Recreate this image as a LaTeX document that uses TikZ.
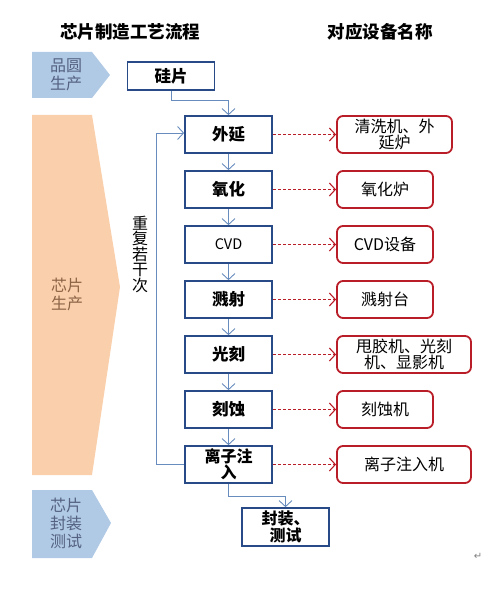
\documentclass[tikz,border=0pt]{standalone}
\usepackage{fontspec}
\setmainfont{Noto Sans CJK SC}
\newfontfamily\symfont{DejaVu Sans}
\usetikzlibrary{arrows.meta}

\definecolor{boxblue}{RGB}{40,75,135}
\definecolor{lineblue}{RGB}{105,140,190}
\definecolor{eqred}{RGB}{185,30,40}
\definecolor{sideblue}{RGB}{176,201,229}
\definecolor{sideorange}{RGB}{250,207,172}
\definecolor{sidetxtblue}{RGB}{85,98,130}
\definecolor{sidetxtorange}{RGB}{140,100,70}

\tikzset{
  stepbox/.style={draw=boxblue, line width=1.7pt, minimum width=87pt,
    minimum height=37pt, inner sep=1pt, align=center,
    font=\fontsize{16.5}{16.5}\selectfont\bfseries},
  toolbox/.style={draw=eqred, line width=1.8pt, rounded corners=6pt,
    minimum height=37pt, inner sep=1pt, align=center,
    font=\fontsize{16}{16}\selectfont},
  flow/.style={draw=lineblue, line width=0.9pt,
    -{Straight Barb[length=6pt,width=13pt]}},
  usedby/.style={draw=eqred, line width=1.1pt, dash pattern=on 3pt off 2pt,
    -{Straight Barb[length=6pt,width=13pt]}},
  stage/.style={align=center, font=\fontsize{16}{18}\selectfont},
  heading/.style={font=\fontsize{17.5}{17.5}\selectfont\bfseries}
}

\begin{document}
\begin{tikzpicture}[x=1pt,y=-1pt]
  \useasboundingbox (0,0) rectangle (500,601);

  % headings
  \node[heading] (title-flow) at (130,32) {芯片制造工艺流程};
  \node[heading] (title-tool) at (380,32) {对应设备名称};

  % stage bands on the left
  \fill[sideblue] (32,52) -- (92,52) -- (110,75) -- (92,98) -- (32,98) -- cycle;
  \fill[sideorange] (32,115) -- (92,115) -- (120,287) -- (92,475) -- (32,475) -- cycle;
  \fill[sideblue] (32,490) -- (92,490) -- (111,523) -- (92,558) -- (32,558) -- cycle;
  \node[stage, text=sidetxtblue] (stage-wafer) at (66,75) {品圆\\生产};
  \node[stage, text=sidetxtorange] (stage-chip) at (67,294) {芯片\\生产};
  \node[stage, text=sidetxtblue] (stage-pack) at (66,523) {芯片\\封装\\测试};

  % process steps
  \node[stepbox, minimum height=28pt] (guipian) at (171,76) {硅片};
  \node[stepbox] (waiyan)  at (228.5,134.5) {外延};
  \node[stepbox] (yanghua) at (228.5,189.5) {氧化};
  \node[stepbox, font=\fontsize{14.5}{14.5}\selectfont] (cvd) at (228.5,244.5) {CVD};
  \node[stepbox] (jianshe) at (228.5,299.5) {溅射};
  \node[stepbox] (guangke) at (228.5,354.5) {光刻};
  \node[stepbox] (keshi)   at (228.5,409.5) {刻蚀};
  \node[stepbox, font=\fontsize{16}{16.5}\selectfont\bfseries] (zhuru) at (228.5,464.5) {离子注\\入};
  \node[stepbox, minimum height=38pt, font=\fontsize{16}{16.5}\selectfont\bfseries] (fengzhuang) at (285.5,527) {封装、\\测试};

  % equipment
  \node[toolbox, minimum width=115pt] (t-waiyan)  at (394.5,134.5) {清洗机、外\\延炉};
  \node[toolbox, minimum width=96pt]  (t-yanghua) at (385,189.5) {氧化炉};
  \node[toolbox, minimum width=96pt]  (t-cvd)     at (385,244.5) {CVD设备};
  \node[toolbox, minimum width=96pt]  (t-jianshe) at (385,299.5) {溅射台};
  \node[toolbox, minimum width=134pt] (t-guangke) at (404,354.5) {甩胶机、光刻\\机、显影机};
  \node[toolbox, minimum width=96pt]  (t-keshi)   at (385,409.5) {刻蚀机};
  \node[toolbox, minimum width=134pt] (t-zhuru)   at (404,464.5) {离子注入机};

  % flow
  \draw[flow] (guipian.south) -- ++(0,10) -| (waiyan.north);
  \draw[flow] (waiyan) -- (yanghua);
  \draw[flow] (yanghua) -- (cvd);
  \draw[flow] (cvd) -- (jianshe);
  \draw[flow] (jianshe) -- (guangke);
  \draw[flow] (guangke) -- (keshi);
  \draw[flow] (keshi) -- (zhuru);
  \draw[flow] (zhuru.west) -- ++(-28,0) |- ([yshift=1.5pt]waiyan.west);
  \draw[flow] (zhuru.south) -- ++(0,13) -| (fengzhuang.north);
  \node[align=center, font=\fontsize{16}{15.5}\selectfont] (repeat) at (140,254) {重\\复\\若\\干\\次};

  % step -> equipment
  \draw[usedby] (waiyan)  -- (t-waiyan);
  \draw[usedby] (yanghua) -- (t-yanghua);
  \draw[usedby] (cvd)     -- (t-cvd);
  \draw[usedby] (jianshe) -- (t-jianshe);
  \draw[usedby] (guangke) -- (t-guangke);
  \draw[usedby] (keshi)   -- (t-keshi);
  \draw[usedby] (zhuru)   -- (t-zhuru);

  \node[text=gray, font=\symfont\fontsize{10}{10}\selectfont] (ret) at (478,556) {↵};
\end{tikzpicture}
\end{document}
